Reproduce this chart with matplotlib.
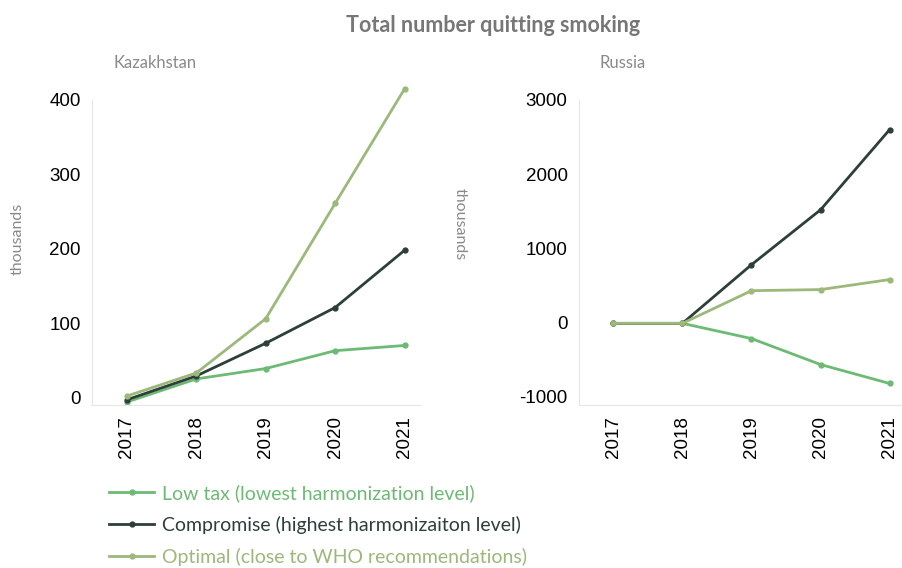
import matplotlib.pyplot as plt

years = [2017, 2018, 2019, 2020, 2021]

# Kazakhstan, thousands
kz_low = [-6, 25, 39, 63, 70]
kz_comp = [-3, 29, 73, 121, 198]
kz_opt = [2, 33, 106, 261, 415]

# Russia, thousands
ru_low = [-10, -10, -215, -565, -820]
ru_comp = [-10, -10, 780, 1520, 2600]
ru_opt = [-10, -10, 430, 445, 580]

labels = ['Low tax (lowest harmonization level)',
          'Compromise (highest harmonizaiton level)',
          'Optimal (close to WHO recommendations)']
colors = ['#6dba74', '#2e3f3a', '#9cb87a']

plt.rcParams['font.family'] = ['Lato', 'DejaVu Sans']

fig = plt.figure(figsize=(9.03, 5.68), dpi=100)
ax1 = fig.add_axes([0.102, 0.287, 0.363, 0.537])
ax2 = fig.add_axes([0.641, 0.287, 0.361, 0.537])


def style_axis(ax, series, ylim, yticks):
    lines = []
    for vals, c in zip(series, colors):
        ln, = ax.plot(years, vals, color=c, lw=2, marker='o', markersize=3.5,
                      clip_on=False)
        lines.append(ln)
    ax.set_xlim(2016.5, 2021.22)
    ax.set_ylim(*ylim)
    ax.set_yticks(yticks)
    ax.set_xticks(years)
    ax.set_xticklabels([str(y) for y in years], rotation=90,
                       family='Liberation Sans', fontsize=13.5)
    ax.set_yticklabels([str(t) for t in yticks], family='Liberation Sans',
                       fontsize=13.5)
    ax.tick_params(length=0, pad=8)
    for s in ['top', 'right']:
        ax.spines[s].set_visible(False)
    for s in ['left', 'bottom']:
        ax.spines[s].set_color('#e6e6e6')
    return lines


lines = style_axis(ax1, [kz_low, kz_comp, kz_opt], (-10, 400), [0, 100, 200, 300, 400])
style_axis(ax2, [ru_low, ru_comp, ru_opt], (-1110, 3000), [-1000, 0, 1000, 2000, 3000])

fig.text(0.546, 0.955, 'Total number quitting smoking', ha='center', va='center',
         fontsize=15.5, fontweight='bold', color='#777777')
fig.text(0.126, 0.889, 'Kazakhstan', ha='left', va='center', fontsize=12, color='#8a8a8a')
fig.text(0.664, 0.889, 'Russia', ha='left', va='center', fontsize=12, color='#8a8a8a')
fig.text(0.02, 0.58, 'thousands', rotation=90, ha='center', va='center',
         fontsize=11.5, color='#8a8a8a')
fig.text(0.509, 0.605, 'thousands', rotation=270, ha='center', va='center',
         fontsize=11.5, color='#8a8a8a')

fig.legend(lines, labels, loc='upper left', bbox_to_anchor=(0.121, 0.148),
           frameon=False, fontsize=14, labelcolor='linecolor', numpoints=1,
           handlelength=2.3, handletextpad=0.4, labelspacing=0.72,
           borderaxespad=0, borderpad=0)

fig.savefig('out.png', dpi=100)
